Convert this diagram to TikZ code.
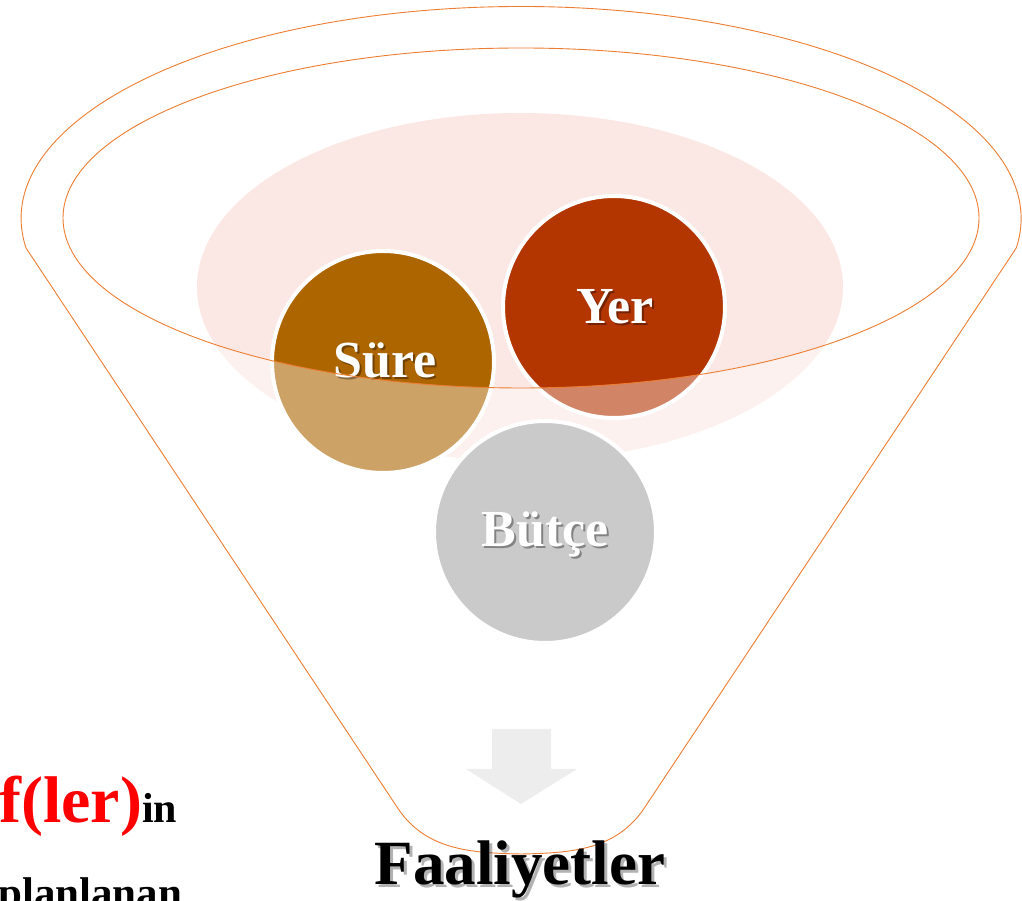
\documentclass[tikz,border=0pt]{standalone}
\usepackage{fontspec}
\setmainfont{Liberation Serif}
\usetikzlibrary{calc}
\definecolor{funnelorange}{HTML}{ED7D31}
\definecolor{surecol}{HTML}{AD6500}
\definecolor{yercol}{HTML}{B33500}
\definecolor{butcecol}{HTML}{A8A8A8}
\definecolor{pinkfill}{HTML}{FBE8E4}
\definecolor{arrowgray}{HTML}{EDEDED}
\begin{document}
\begin{tikzpicture}[x=1pt,y=1pt,
  ball/.style={circle, minimum size=222pt, inner sep=0pt, draw=white, line width=4pt},
  lbl/.style={inner sep=0pt, anchor=base, text=white, font=\fontsize{52}{52}\selectfont\bfseries},
  lblshadow/.style={lbl, text=black, opacity=0.35},
  funnelline/.style={draw=funnelorange, line width=0.9pt},
  bigtitle/.style={inner sep=0pt, anchor=base, font=\fontsize{63}{63}\selectfont\bfseries}]
\useasboundingbox (0,0) rectangle (1022,901);
% background pink ellipse
\fill[pinkfill] (520,614) ellipse [x radius=323, y radius=174];
% circles
\node[ball, fill=surecol] (sure) at (383,539) {};
\node[ball, fill=yercol] (yer) at (614,594) {};
\node[ball, fill=butcecol] (butce) at (545,369) {};
% translucent funnel body
\fill[white, opacity=0.4, even odd rule]
  (26,653) arc[start angle=188, end angle=-8, x radius=500, y radius=212]
  -- (645,94) .. controls (617,51) and (572,48) .. (521,47)
  .. controls (470,48) and (425,51) .. (397,94) -- cycle
  (521,683) ellipse [x radius=458, y radius=170];
% labels
\node[lblshadow] (sureS) at (387,521) {Süre};
\node[lbl] (sureT) at (385,523) {Süre};
\node[lblshadow] (yerS) at (617,575) {Yer};
\node[lbl] (yerT) at (615,577) {Yer};
\node[lblshadow] (butceS) at (547,352) {Bütçe};
\node[lbl] (butceT) at (545,354) {Bütçe};
% funnel outlines
\path[funnelline]
  (26,653) arc[start angle=188, end angle=-8, x radius=500, y radius=212]
  -- (645,94) .. controls (617,51) and (572,48) .. (521,47)
  .. controls (470,48) and (425,51) .. (397,94) -- cycle;
\draw[funnelline] (521,683) ellipse [x radius=458, y radius=170];
% arrow
\fill[arrowgray] (492,172) -- (551,172) -- (551,132) -- (577,132) -- (521,97)
  -- (466,132) -- (492,132) -- cycle;
% title
\node[bigtitle, text=black, opacity=0.3] (titleS) at (523,13) {Faaliyetler};
\node[bigtitle, text=black] (title) at (520,16) {Faaliyetler};
% left texts
\node[inner sep=0pt, anchor=base west, font=\bfseries] (hedef) at (-1,78)
  {{\fontsize{66}{66}\selectfont\color{red}f(ler)}{\fontsize{42}{42}\selectfont in}};
\node[inner sep=0pt, anchor=base west, font=\fontsize{43}{43}\selectfont\bfseries] (plan) at (-2,-7) {planlanan};
\end{tikzpicture}
\end{document}
